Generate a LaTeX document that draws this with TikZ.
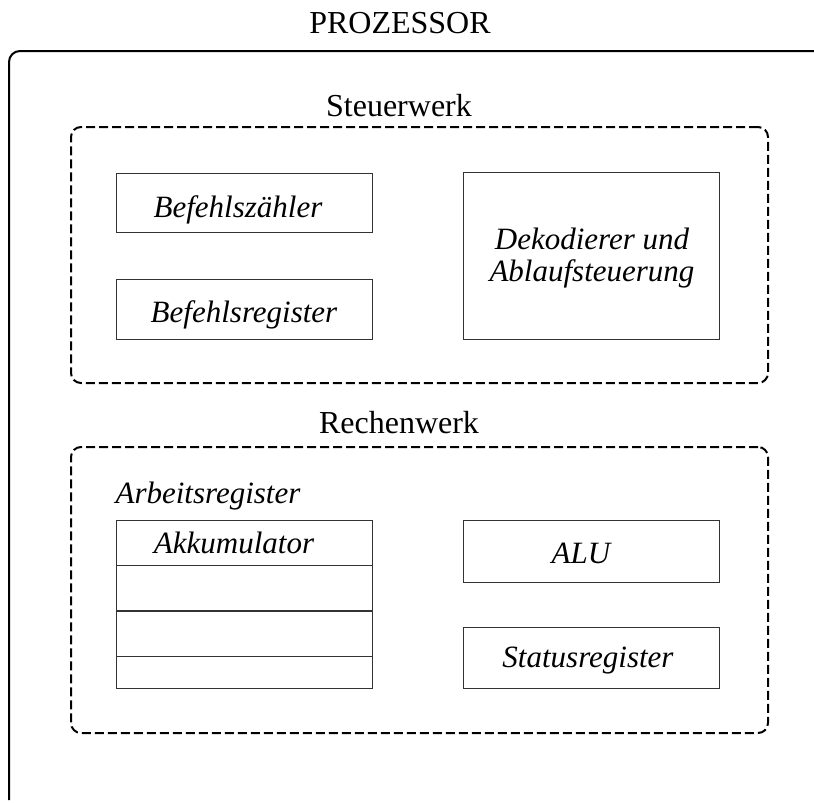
\documentclass[tikz,border=0pt]{standalone}
\usepackage{fontspec}
\setmainfont{Liberation Serif}
\begin{document}
\begin{tikzpicture}[x=1pt,y=-1pt,
  frame/.style={line width=2pt, rounded corners=11pt},
  unit/.style={line width=2pt, dash pattern=on 9pt off 4pt, rounded corners=10pt},
  regbox/.style={draw=black!80, line width=1pt, minimum width=256pt, inner sep=0pt},
  title/.style={font=\fontsize{32}{36}\selectfont, anchor=base},
  label/.style={font=\fontsize{31}{36}\selectfont\itshape, anchor=base},
  lbl/.style={font=\fontsize{31}{36}\selectfont\itshape, align=center}
]
\useasboundingbox (0,0) rectangle (814,803);

% processor frame, open to the right and below
\coordinate (pbot) at (9,800);
\coordinate (ptop) at (814,51);
\draw[frame] (pbot) |- (ptop);
\node[title] (proz) at (400,33) {PROZESSOR};

% control unit
\node[draw, unit, minimum width=697pt, minimum height=256pt] (steuer) at (419.5,255) {};
\node[title] (steuert) at (399,116) {Steuerwerk};
\node[regbox, minimum height=59pt] (bz) at (244,202.5) {};
\node[label] (bzt) at (238,217) {Befehlszähler};
\node[regbox, minimum height=60pt] (br) at (244,309) {};
\node[label] (brt) at (244,322) {Befehlsregister};
\node[regbox, minimum height=167pt] (dek) at (591.5,255.5) {};
\node[lbl] (dekt) at (592,258) {Dekodierer und\\[-4pt]Ablaufsteuerung};

% arithmetic unit
\node[draw, unit, minimum width=697pt, minimum height=286pt] (rechen) at (419.5,590) {};
\node[title] (rechent) at (399,433) {Rechenwerk};
\node[label] (art) at (208,503) {Arbeitsregister};
\node[regbox, minimum height=45pt] (r1) at (244,543) {};
\node[label] (akk) at (234,553) {Akkumulator};
\node[regbox, minimum height=45pt] (r2) at (244,588) {};
\node[regbox, minimum height=45pt] (r3) at (244,633.5) {};
\node[regbox, minimum height=32pt] (r4) at (244,672) {};
\node[regbox, minimum height=62pt] (alu) at (591.5,551) {};
\node[label] (alut) at (581,563) {ALU};
\node[regbox, minimum height=61pt] (stat) at (591.5,657.5) {};
\node[label] (statt) at (588,667) {Statusregister};
\end{tikzpicture}
\end{document}
